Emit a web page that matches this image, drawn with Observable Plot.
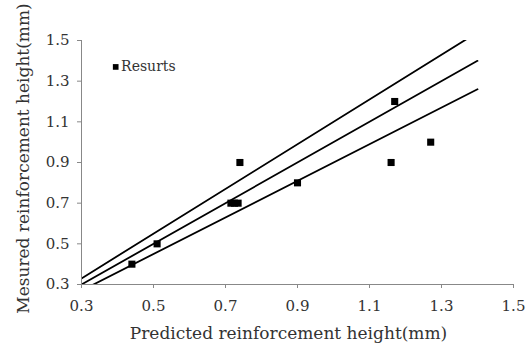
<!DOCTYPE html>
<html>
<head>
<meta charset="utf-8">
<script src="https://cdn.jsdelivr.net/npm/d3@7"></script>
<script src="https://cdn.jsdelivr.net/npm/@observablehq/plot@0.6"></script>
<style>
  html, body { margin: 0; padding: 0; background: #fff; }
  svg { display: block; }
</style>
</head>
<body>
<div id="chart"></div>
<script>
const predicted = [0.44, 0.51, 0.715, 0.725, 0.735, 0.74, 0.90, 1.16, 1.17, 1.27];
const measured  = [0.40, 0.50, 0.70, 0.70, 0.70, 0.90, 0.80, 0.90, 1.20, 1.00];
const ratios = [0.9, 1.0, 1.1];
const lineRange = [0.3, 1.4];
const ticks = [0.3, 0.5, 0.7, 0.9, 1.1, 1.3, 1.5];
const legendLabel = "Resurts";
const xTitle = "Predicted reinforcement height(mm)";
const yTitle = "Mesured reinforcement height(mm)";

const points = predicted.map((x, i) => ({x, y: measured[i]}));
const lines = ratios.flatMap(r => lineRange.map(x => ({r, x, y: r * x})));

const chart = Plot.plot({
  width: 529,
  height: 353,
  marginLeft: 81,
  marginRight: 16,
  marginTop: 40,
  marginBottom: 69,
  style: {fontFamily: "'DejaVu Serif', serif", fontSize: "15px", color: "#333", background: "#fff"},
  x: {domain: [0.3, 1.5]},
  y: {domain: [0.3, 1.5]},
  marks: [
    Plot.axisX({ticks, tickFormat: d3.format(".1f"), tickSize: 4, tickPadding: 12, label: null, fontSize: 15, stroke: "#888"}),
    Plot.axisY({ticks, tickFormat: d3.format(".1f"), tickSize: 4, tickPadding: 8, label: null, fontSize: 15, stroke: "#888"}),
    Plot.line(lines, {x: "x", y: "y", z: "r", stroke: "#000", strokeWidth: 1.8, clip: true}),
    Plot.dot(points, {x: "x", y: "y", symbol: "square", r: 4, fill: "#000", stroke: "none"}),
    Plot.ruleX([0.3], {stroke: "#888"}),
    Plot.ruleY([0.3], {stroke: "#888"}),
    Plot.dot([legendLabel], {x: () => 0.395, y: () => 1.37, symbol: "square", r: 3.2, fill: "#000"}),
    Plot.text([legendLabel], {x: () => 0.41, y: () => 1.37, text: d => d, textAnchor: "start", fontSize: 14, fill: "#333"}),
    Plot.text([xTitle], {frameAnchor: "bottom", dy: 54, dx: -9, textAnchor: "middle", lineAnchor: "bottom", text: d => d, fontSize: 17, fill: "#333"}),
    Plot.text([yTitle], {frameAnchor: "left", dx: -58, dy: -4, rotate: -90, textAnchor: "middle", lineAnchor: "middle", text: d => d, fontSize: 17, fill: "#333"})
  ]
});
document.getElementById("chart").append(chart);
</script>
</body>
</html>
